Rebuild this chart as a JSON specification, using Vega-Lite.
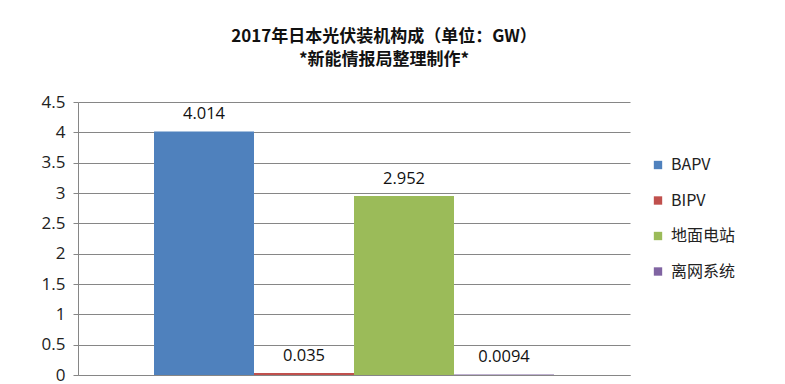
{
  "$schema": "https://vega.github.io/schema/vega-lite/v6.json",
  "autosize": "none",
  "width": 552,
  "height": 273,
  "padding": {"left": 78, "top": 102, "right": 155, "bottom": 9},
  "background": "white",
  "title": {
    "text": ["2017年日本光伏装机构成（单位：GW）", "*新能情报局整理制作*"],
    "font": "Noto Sans CJK SC",
    "fontSize": 17,
    "fontWeight": "bold",
    "color": "#111111",
    "lineHeight": 23,
    "anchor": "middle",
    "frame": "group",
    "offset": 24,
    "dx": 30
  },
  "data": {
    "values": [
      {"series": "BAPV", "value": 4.014, "label": "4.014"},
      {"series": "BIPV", "value": 0.035, "label": "0.035"},
      {"series": "地面电站", "value": 2.952, "label": "2.952"},
      {"series": "离网系统", "value": 0.0094, "label": "0.0094"}
    ]
  },
  "encoding": {
    "x": {
      "field": "series",
      "type": "nominal",
      "sort": null,
      "scale": {"paddingInner": 0, "paddingOuter": 0.76},
      "axis": {"labels": false, "ticks": false, "title": null, "domain": true, "domainColor": "#868686", "grid": false}
    },
    "y": {
      "field": "value",
      "type": "quantitative",
      "scale": {"domain": [0, 4.5], "nice": false},
      "axis": {
        "values": [0, 0.5, 1, 1.5, 2, 2.5, 3, 3.5, 4, 4.5],
        "format": "~g",
        "title": null,
        "grid": true,
        "gridColor": "#868686",
        "gridOpacity": 1,
        "domainColor": "#868686",
        "tickColor": "#868686",
        "tickSize": 5,
        "labelFont": "Open Sans",
        "labelFontSize": 17,
        "labelColor": "#222222",
        "labelPadding": 8
      }
    }
  },
  "layer": [
    {
      "mark": {"type": "bar"},
      "encoding": {
        "color": {
          "field": "series",
          "type": "nominal",
          "sort": null,
          "scale": {"range": ["#4F81BD", "#C0504D", "#9BBB59", "#8064A2"]},
          "legend": {
            "title": null,
            "orient": "none",
            "legendX": 572,
            "legendY": 55,
            "symbolType": "square",
            "symbolSize": 70,
            "symbolStrokeWidth": 0,
            "labelFont": "Noto Sans CJK SC",
            "labelFontSize": 16,
            "labelColor": "#222222",
            "rowPadding": 19.5,
            "labelOffset": 5
          }
        }
      }
    },
    {
      "mark": {"type": "text", "baseline": "bottom", "dy": -9, "font": "Open Sans", "fontSize": 16.5, "color": "#111111"},
      "encoding": {"text": {"field": "label"}}
    }
  ],
  "config": {"view": {"stroke": null}}
}
